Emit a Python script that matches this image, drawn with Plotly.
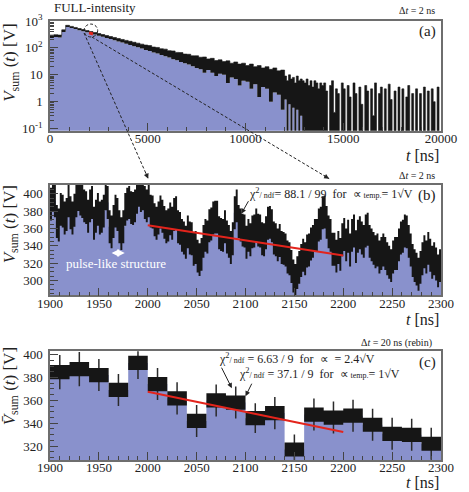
import plotly.graph_objects as go

FONT = "Liberation Serif"
BLUE = "#8991cc"
BLACK = "#161616"
RED = "#e3241c"
FRAME = "#6e6e6e"

# ---------------- (a) full record, coarse bins [ns] ----------------
a_edges = list(range(0, 12000, 200)) + list(range(12000, 20000, 100))
# top of the black noise band
a_hi = [300, 310, 300, 470, 690, 630, 575, 525, 482, 440,
        405, 372, 342, 314, 288, 265, 244, 224, 206, 190,
        176, 162, 150, 138, 128, 122, 108, 104, 93, 90,
        79, 77, 68, 67, 59, 58, 51, 51, 45, 46,
        39, 41, 34, 36, 31, 33, 27, 30, 25, 27,
        22, 25, 20, 22, 18, 20, 16, 18, 14, 15,
        9, 6, 10, 7, 8, 5, 9, 6, 7, 6,
        5, 7, 4, 6, 3.5, 6, 5, 3, 5, 4,
        5, 2.5, 0.05, 4, 6, 0.4, 3, 2, 0.05, 5,
        3, 0.05, 4, 1.5, 0.05, 5, 2, 0.05, 3.5, 0.8,
        0.05, 4, 2.5, 0.05, 3, 0.3, 5, 0.05, 2, 3.5,
        0.05, 3, 0.05, 4.5, 1.2, 0.05, 2.5, 0.05, 3.5, 0.05,
        3, 0.05, 1.5, 4, 0.05, 2, 0.05, 3, 0.05, 2,
        0.05, 3.5, 0.05, 2.5, 0.05, 3, 1, 0.05, 3.5, 0.05]
# bottom of the black band (= top of the blue histogram)
a_lo = [235, 255, 245, 390, 600, 550, 500, 455, 415, 378,
        345, 313, 285, 258, 234, 212, 192, 174, 158, 143,
        129, 116, 105, 94, 84, 76, 68, 62, 55, 49,
        44, 38, 35, 30, 27, 24, 21, 18, 16, 12,
        15, 12, 9, 11, 10, 5, 8, 7, 4, 6,
        5.5, 3, 4.5, 1.5, 3.5, 3, 1, 2.2, 1.8, 0.5,
        1.2, 0.05, 0.8, 0.05, 0.6, 0.05, 0.5, 0.05, 0.3, 0.05,
        0.05, 0.05, 0.05, 0.05, 0.05, 0.05, 0.05, 0.05, 0.05, 0.05,
        0.05, 0.05, 0.05, 0.05, 0.05, 0.05, 0.05, 0.05, 0.05, 0.05,
        0.05, 0.05, 0.05, 0.05, 0.05, 0.05, 0.05, 0.05, 0.05, 0.05,
        0.05, 0.05, 0.05, 0.05, 0.05, 0.05, 0.05, 0.05, 0.05, 0.05,
        0.05, 0.05, 0.05, 0.05, 0.05, 0.05, 0.05, 0.05, 0.05, 0.05,
        0.05, 0.05, 0.05, 0.05, 0.05, 0.05, 0.05, 0.05, 0.05, 0.05,
        0.05, 0.05, 0.05, 0.05, 0.05, 0.05, 0.05, 0.05, 0.05, 0.05]
a_end = 20000
a_ticks = [0, 5000, 10000, 15000, 20000]

# ---------------- (b) zoom, 2 ns bins ----------------
b_edges = list(range(1900, 2301, 2))
b_val = [388, 398, 392, 368, 364, 382, 380, 372, 376, 392,
         378, 372, 381, 392, 399, 394, 391, 386, 384, 374,
         386, 390, 366, 374, 382, 372, 374, 380, 400, 390,
         362, 356, 368, 380, 376, 362, 354, 362, 382, 388,
         390, 384, 383, 386, 396, 404, 398, 400, 390, 386,
         392, 380, 379, 370, 366, 372, 379, 374, 367, 362,
         364, 371, 366, 376, 378, 362, 360, 352, 349, 344,
         356, 349, 348, 336, 338, 328, 324, 330, 345, 352,
         350, 363, 365, 372, 373, 373, 355, 353, 352, 362,
         350, 345, 338, 348, 378, 386, 368, 364, 358, 357,
         344, 352, 347, 356, 357, 364, 358, 357, 348, 347,
         355, 366, 367, 363, 349, 347, 341, 346, 338, 337,
         335, 327, 325, 316, 305, 300, 309, 315, 323, 329,
         325, 334, 335, 342, 345, 352, 352, 364, 366, 378,
         379, 367, 356, 352, 336, 336, 328, 338, 330, 347,
         353, 341, 351, 335, 352, 357, 339, 351, 355, 349,
         345, 357, 359, 345, 341, 337, 333, 335, 327, 331,
         335, 331, 325, 321, 317, 327, 331, 331, 341, 349,
         351, 357, 356, 345, 335, 323, 317, 313, 307, 315,
         325, 333, 327, 337, 329, 321, 325, 319, 311, 317]
b_sig = 19
b_fit_t = [2000, 2200]
b_fit_v = [363.6, 328.7]

# ---------------- (c) rebinned, 20 ns bins ----------------
c_edges = list(range(1900, 2301, 20))
c_val = [384.7, 387.3, 382.1, 369.1, 392.7, 374.2, 361.7, 342.0, 359.9, 358.0,
         344.4, 348.8, 317.0, 347.5, 344.9, 346.6, 338.6, 330.7, 329.8, 322.0]
c_box = 6.2
c_err = [15, 15, 14, 14, 14, 14, 14, 14, 14, 14,
         13, 14, 13, 14, 14, 14, 14, 14, 14, 14]
c_fit_t = [2000, 2200]
c_fit_v = [367.4, 332.2]


def steps(edges, vals, end):
    # closes the last bin so hv-steps cover the full width
    return list(edges[:len(vals)]) + [end], list(vals) + [vals[-1]]


fig = go.Figure()

# (a)
xa, ylo = steps(a_edges, a_lo, a_end)
_, yhi = steps(a_edges, a_hi, a_end)
fig.add_trace(go.Scatter(x=xa, y=[0.01] * len(xa), mode="lines", line=dict(width=0, shape="hv"),
                         xaxis="x", yaxis="y", hoverinfo="skip"))
fig.add_trace(go.Scatter(x=xa, y=ylo, mode="lines", line=dict(width=0, shape="hv"),
                         fill="tonexty", fillcolor=BLUE, xaxis="x", yaxis="y"))
fig.add_trace(go.Scatter(x=xa, y=yhi, mode="lines", line=dict(width=0.6, shape="hv", color=BLACK),
                         fill="tonexty", fillcolor=BLACK, xaxis="x", yaxis="y"))
fig.add_trace(go.Scatter(x=b_fit_t, y=b_fit_v, mode="lines", line=dict(color=RED, width=3),
                         xaxis="x", yaxis="y"))

# (b)
xb, yb = steps(b_edges, b_val, b_edges[-1])
fig.add_trace(go.Scatter(x=xb, y=yb, mode="lines", line=dict(width=0, shape="hv"),
                         fill="tozeroy", fillcolor=BLUE, xaxis="x2", yaxis="y2"))
fig.add_trace(go.Scatter(x=xb, y=[v - b_sig for v in yb], mode="lines", line=dict(width=0, shape="hv"),
                         xaxis="x2", yaxis="y2"))
fig.add_trace(go.Scatter(x=xb, y=[v + b_sig for v in yb], mode="lines", line=dict(width=0, shape="hv"),
                         fill="tonexty", fillcolor=BLACK, xaxis="x2", yaxis="y2"))
fig.add_trace(go.Scatter(x=b_fit_t, y=b_fit_v, mode="lines", line=dict(color=RED, width=2),
                         xaxis="x2", yaxis="y2"))

# (c)
xc, yc = steps(c_edges, c_val, c_edges[-1])
fig.add_trace(go.Scatter(x=xc, y=yc, mode="lines", line=dict(width=0, shape="hv"),
                         fill="tozeroy", fillcolor=BLUE, xaxis="x3", yaxis="y3"))
fig.add_trace(go.Scatter(x=[t + 10 for t in c_edges[:-1]], y=c_val, mode="markers",
                         marker=dict(size=1, color="#2a2a2a"),
                         error_y=dict(type="data", array=c_err, thickness=1.5, width=0, color="#2a2a2a"),
                         xaxis="x3", yaxis="y3"))
fig.add_trace(go.Scatter(x=xc, y=[v - c_box for v in yc], mode="lines", line=dict(width=0, shape="hv"),
                         xaxis="x3", yaxis="y3"))
fig.add_trace(go.Scatter(x=xc, y=[v + c_box for v in yc], mode="lines", line=dict(width=0, shape="hv"),
                         fill="tonexty", fillcolor=BLACK, xaxis="x3", yaxis="y3"))
fig.add_trace(go.Scatter(x=c_fit_t, y=c_fit_v, mode="lines", line=dict(color=RED, width=2),
                         xaxis="x3", yaxis="y3"))

tickfont = dict(family=FONT, size=13, color="#222")
common = dict(showline=True, mirror=True, linecolor=FRAME, linewidth=1.5, ticks="inside",
              ticklen=8, tickcolor="#444", showgrid=False, zeroline=False, tickfont=tickfont)
xcommon = dict(ticklabelstandoff=-5, **common)
ycommon = dict(ticklabelstandoff=3, **common)

log_minor = [m * 10 ** e for e in range(-1, 3) for m in range(2, 10)]

fig.update_layout(
    width=469, height=492,
    margin=dict(l=50, r=17, t=20, b=32),
    paper_bgcolor="white", plot_bgcolor="white",
    showlegend=False,
    font=dict(family=FONT, color="#222"),
    xaxis=dict(domain=[0, 1], anchor="y", range=[0, 20000], tickvals=a_ticks,
               ticktext=[str(t) for t in a_ticks],
               minor=dict(ticks="inside", ticklen=4, dtick=1000, tickcolor="#444"), **xcommon),
    yaxis=dict(domain=[0.75, 1.0], anchor="x", type="log", range=[-1.08, 3],
               tickvals=[0.1, 1, 10, 100, 1000],
               ticktext=["10<sup>-1</sup>", "1", "10", "10<sup>2</sup>", "10<sup>3</sup>"],
               minor=dict(ticks="inside", ticklen=4, tickvals=log_minor, tickcolor="#444"), **ycommon),
    xaxis2=dict(domain=[0, 1], anchor="y2", range=[1900, 2300], dtick=50,
                minor=dict(ticks="inside", ticklen=4, dtick=10, tickcolor="#444"), **xcommon),
    yaxis2=dict(domain=[0.375, 0.627], anchor="x2", range=[282.7, 410.4],
                tickvals=[300, 320, 340, 360, 380, 400],
                minor=dict(ticks="inside", ticklen=4, dtick=5, tickcolor="#444"), **ycommon),
    xaxis3=dict(domain=[0, 1], anchor="y3", range=[1900, 2300], dtick=50,
                minor=dict(ticks="inside", ticklen=4, dtick=10, tickcolor="#444"), **xcommon),
    yaxis3=dict(domain=[0, 0.2477], anchor="x3", range=[307.8, 402.9],
                tickvals=[320, 340, 360, 380, 400],
                minor=dict(ticks="inside", ticklen=4, dtick=5, tickcolor="#444"), **ycommon),
)


def txt(x, y, text, size, xanchor="center", color="#222", angle=0):
    fig.add_annotation(x=x, y=y, xref="paper", yref="paper", text=text, showarrow=False,
                       xanchor=xanchor, yanchor="middle", textangle=angle,
                       font=dict(family=FONT, size=size, color=color))


small = "<span style='font-size:8px'>"
ytitle = "<i>V</i><sub>sum</sub> (<i>t</i>) [V]"

# (a) texts
txt(0.004, 1.03, "FULL-intensity", 13, "left")
txt(0.99, 1.023, "Δ<i>t</i> = 2 ns", 10, "right")
txt(0.992, 0.975, "(a)", 15, "right")
txt(1.0, 0.693, "<i>t</i> [ns]", 16, "right")
txt(-0.0995, 0.905, ytitle, 17, angle=-90)

# (b) texts
txt(0.99, 0.648, "Δ<i>t</i> = 2 ns", 10, "right")
txt(0.992, 0.603, "(b)", 15, "right")
txt(0.503, 0.606, "χ<sup>2</sup>" + small + "/ ndf</span>= 88.1 / 99\u00a0\u00a0for\u00a0\u00a0∝"
    + small + "\u00a0temp.</span>= 1√V", 12, "left")
txt(0.168, 0.4477, "pulse-like structure", 13, color="white")
txt(1.0, 0.3205, "<i>t</i> [ns]", 16, "right")
txt(-0.0995, 0.537, ytitle, 17, angle=-90)

# (c) texts
txt(0.983, 0.2666, "Δ<i>t</i> = 20 ns (rebin)", 10, "right")
txt(0.992, 0.221, "(c)", 15, "right")
txt(0.428, 0.2318, "χ<sup>2</sup>" + small + "/ ndf</span> = 6.63 / 9\u00a0\u00a0for\u00a0\u00a0∝\u00a0 = 2.4√V", 12, "left")
txt(0.478, 0.1977, "χ<sup>2</sup>" + small + "/ ndf</span> = 37.1 / 9\u00a0\u00a0for\u00a0\u00a0∝"
    + small + "\u00a0temp.</span>= 1√V", 12, "left")
txt(1.0, -0.052, "<i>t</i> [ns]", 16, "right")
txt(-0.0995, 0.168, "<i>V\u0304</i><sub>sum</sub> (<i>t</i>) [V]", 17, angle=-90)

# pointer arrows
fig.add_annotation(x=2095.7, y=377, xref="x2", yref="y2", ax=8, ay=-14, text="", showarrow=True,
                   arrowhead=2, arrowsize=1, arrowwidth=1, arrowcolor="#222")
fig.add_annotation(x=1976.5, y=331.5, xref="x2", yref="y2", ax=1961.5, ay=331.5, axref="x2", ayref="y2",
                   text="", showarrow=True, arrowhead=2, arrowside="end+start", arrowsize=1,
                   arrowwidth=1.5, arrowcolor="white")
fig.add_annotation(x=2086, y=370.6, xref="x3", yref="y3", ax=-11, ay=-22, text="", showarrow=True,
                   arrowhead=2, arrowsize=1, arrowwidth=1, arrowcolor="#222")
fig.add_annotation(x=2100, y=363.6, xref="x3", yref="y3", ax=7, ay=-14, text="", showarrow=True,
                   arrowhead=2, arrowsize=1, arrowwidth=1, arrowcolor="#222")

# dashed zoom guides from (a) to (b)
guide = dict(color="#222", width=1, dash="3px,2px")
fig.add_shape(type="circle", xref="paper", yref="paper", x0=0.087, x1=0.122, y0=0.9636, y1=0.993,
              line=guide)
fig.add_shape(type="line", xref="paper", yref="paper", x0=0.087, y0=0.9727, x1=0.2512, y1=0.6409,
              line=guide)
fig.add_shape(type="line", xref="paper", yref="paper", x0=0.107, y0=0.9636, x1=0.714, y1=0.6409,
              line=guide)
fig.add_annotation(x=0.2512, y=0.6409, xref="paper", yref="paper", ax=-3, ay=-7, text="", showarrow=True,
                   arrowhead=2, arrowsize=1, arrowwidth=1, arrowcolor="#222")
fig.add_annotation(x=0.714, y=0.6409, xref="paper", yref="paper", ax=-7, ay=-4, text="", showarrow=True,
                   arrowhead=2, arrowsize=1, arrowwidth=1, arrowcolor="#222")

# the page's default body margin would push the 469x492 figure out of the window
fig.write_html("out.html", config={"displayModeBar": False},
               post_script="document.body.style.margin='0px';")
